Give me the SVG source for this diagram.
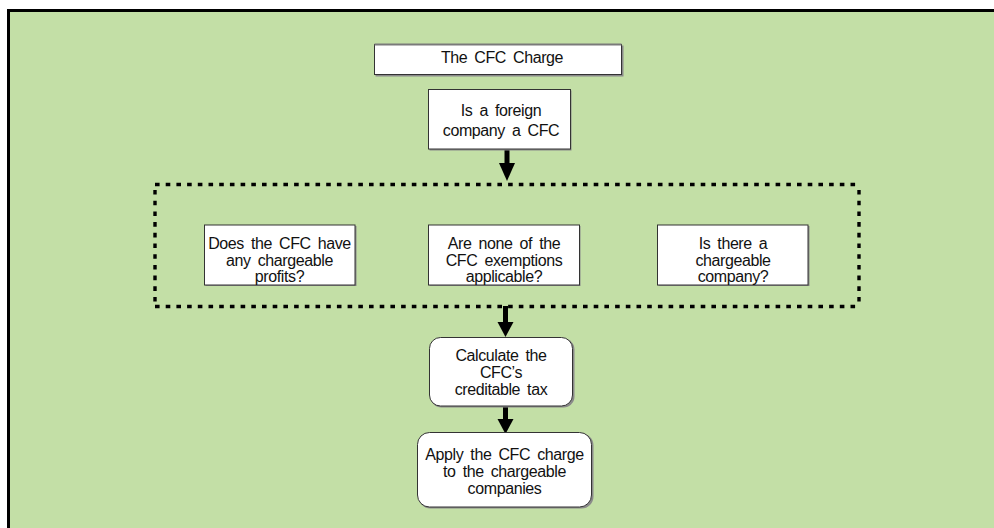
<svg xmlns="http://www.w3.org/2000/svg" width="994" height="528" viewBox="0 0 994 528">
<style>
.box{fill:#ffffff;stroke:#333333;stroke-width:1}
.shadow{fill:#8a8a8a}
.t{font-family:"Liberation Sans",Arial,sans-serif;font-size:16px;fill:#111111;text-anchor:middle;word-spacing:3px;letter-spacing:-0.4px}
.dash{stroke:#000000;stroke-width:3.4;fill:none;stroke-dasharray:4.6 6.1}
.shaft{stroke:#000000;stroke-width:5;fill:none}
.head{fill:#000000}
</style>
<rect x="0" y="0" width="994" height="528" fill="#ffffff"/>
<rect id="frame" x="8.5" y="10.5" width="1000" height="540" fill="#c3dfa6" stroke="#000000" stroke-width="3"/>

<g id="group-conditions">
<line class="dash" x1="155" y1="184.5" x2="859" y2="184.5"/>
<line class="dash" x1="155" y1="306.5" x2="859" y2="306.5"/>
<line class="dash" x1="155" y1="190" x2="155" y2="306"/>
<line class="dash" x1="859" y1="190" x2="859" y2="306"/>
</g>

<g id="connectors">
<line class="shaft" x1="507" y1="150" x2="507" y2="165"/>
<polygon class="head" points="499,163 515,163 507,181"/>
<line class="shaft" x1="505.5" y1="306" x2="505.5" y2="324"/>
<polygon class="head" points="497.5,322 513.5,322 505.5,337"/>
<line class="shaft" x1="505.5" y1="406" x2="505.5" y2="421"/>
<polygon class="head" points="497.5,419 513.5,419 505.5,434"/>
</g>

<g id="title">
<rect class="shadow" x="375.5" y="45.5" width="248" height="31"/>
<rect class="box" x="374.5" y="44.5" width="247" height="30"/>
<line x1="374.5" y1="44.5" x2="621.5" y2="44.5" stroke="#7a7a7a" stroke-width="2"/>
<text class="t" x="502" y="63">The CFC Charge</text>
</g>

<g id="foreign">
<rect class="shadow" x="429.5" y="90.5" width="142" height="60"/>
<rect class="box" x="428.5" y="89.5" width="142" height="59.5"/>
<text class="t" x="501" y="116">Is a foreign</text>
<text class="t" x="501" y="136">company a CFC</text>
</g>

<g id="profits">
<rect class="shadow" x="205.5" y="226" width="151" height="60"/>
<rect class="box" x="204.5" y="225" width="150.5" height="60"/>
<text class="t" x="279.5" y="249">Does the CFC have</text>
<text class="t" x="279.5" y="265.5">any chargeable</text>
<text class="t" x="279.5" y="282">profits?</text>
</g>

<g id="exemptions">
<rect class="shadow" x="429.5" y="226" width="151" height="60"/>
<rect class="box" x="428.5" y="225" width="151" height="60"/>
<text class="t" x="504" y="249">Are none of the</text>
<text class="t" x="504" y="265.5">CFC exemptions</text>
<text class="t" x="504" y="282">applicable?</text>
</g>

<g id="chargeable">
<rect class="shadow" x="658.5" y="226" width="151" height="60"/>
<rect class="box" x="657.5" y="225" width="150.5" height="60"/>
<text class="t" x="733" y="249">Is there a</text>
<text class="t" x="733" y="265.5">chargeable</text>
<text class="t" x="733" y="282">company?</text>
</g>

<g id="calculate">
<rect class="shadow" x="430.5" y="338.5" width="144" height="69" rx="11"/>
<rect class="box" x="429.5" y="337.5" width="143" height="68.5" rx="11"/>
<text class="t" x="501" y="361">Calculate the</text>
<text class="t" x="501" y="378">CFC’s</text>
<text class="t" x="501" y="395">creditable tax</text>
</g>

<g id="apply">
<rect class="shadow" x="418.5" y="433.5" width="175" height="75" rx="12"/>
<rect class="box" x="417.5" y="432.5" width="174" height="74.5" rx="12"/>
<text class="t" x="504.5" y="460">Apply the CFC charge</text>
<text class="t" x="504.5" y="477">to the chargeable</text>
<text class="t" x="504.5" y="494">companies</text>
</g>
</svg>
